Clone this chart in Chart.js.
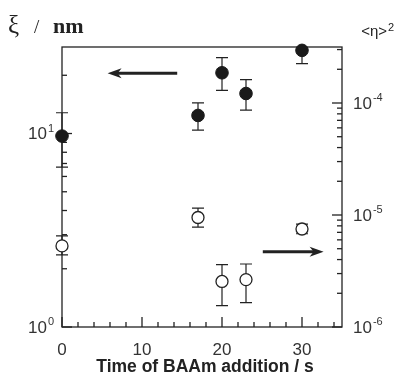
<!DOCTYPE html>
<html>
<head>
<meta charset="utf-8">
<script src="https://cdn.jsdelivr.net/npm/chart.js@4/dist/chart.umd.min.js"></script>
<style>
  html, body { margin: 0; padding: 0; background: #fff; }
  #wrap { width: 398px; height: 376px; }
</style>
</head>
<body>
<div id="wrap"><canvas id="c" width="398" height="376"></canvas></div>
<script>
// time of BAAm addition (s)
const times = [0, 17, 20, 23, 30];
// correlation length xi / nm (left axis), with error bar ends
const xi   = [9.7, 12.4, 20.6, 16.1, 26.9];
const xiLo = [6.7, 10.4, 16.7, 13.2, 23.0];
const xiHi = [12.8, 14.4, 24.7, 19.0, 31.0];
// <eta>^2 (right axis), with error bar ends
const eta2   = [5.3e-6, 9.5e-6, 2.55e-6, 2.65e-6, 7.5e-6];
const eta2Lo = [4.4e-6, 7.8e-6, 1.55e-6, 1.65e-6, 6.8e-6];
const eta2Hi = [6.5e-6, 1.15e-5, 3.6e-6, 3.65e-6, 8.3e-6];

// tick labels
const xTicks = [0, 10, 20, 30];
const leftExps = [0, 1];
const rightExps = [-6, -5, -4];

// arrows pointing at the axis each series belongs to (data units)
const leftArrow = { from: 14.4, to: 5.7, y: 20.5 };
const rightArrow = { from: 25.1, to: 32.7, y: 4.7e-6 };

const INK = '#222';
const SANS = "'Liberation Sans', Arial, sans-serif";
const SERIF = "'Liberation Serif', 'DejaVu Serif', serif";

function drawPow(ctx, exp, x, y, align) {
  ctx.textBaseline = 'middle';
  ctx.font = '17px ' + SANS;
  const bw = ctx.measureText('10').width;
  ctx.font = '11px ' + SANS;
  const ew = ctx.measureText(String(exp)).width;
  const x0 = align === 'right' ? x - bw - ew - 1 : x;
  ctx.textAlign = 'left';
  ctx.font = '17px ' + SANS;
  ctx.fillText('10', x0, y + 1);
  ctx.font = '11px ' + SANS;
  ctx.fillText(String(exp), x0 + bw + 1, y - 5);
}

function logTicks(ctx, scale, xEdge, dir) {
  const lo = Math.floor(Math.log10(scale.min));
  const hi = Math.ceil(Math.log10(scale.max));
  for (let d = lo; d <= hi; d++) {
    for (let k = 1; k <= 9; k++) {
      const v = k * Math.pow(10, d);
      if (v < scale.min * 0.999 || v > scale.max * 1.001) continue;
      const py = scale.getPixelForValue(v);
      const len = k === 1 ? 10 : 5;
      ctx.beginPath();
      ctx.moveTo(xEdge, py);
      ctx.lineTo(xEdge + dir * len, py);
      ctx.stroke();
    }
  }
}

function arrow(ctx, x1, x2, y) {
  const dir = Math.sign(x2 - x1);
  ctx.lineWidth = 3;
  ctx.beginPath();
  ctx.moveTo(x1, y);
  ctx.lineTo(x2 - dir * 8, y);
  ctx.stroke();
  ctx.beginPath();
  ctx.moveTo(x2, y);
  ctx.lineTo(x2 - dir * 14, y - 5);
  ctx.lineTo(x2 - dir * 10, y);
  ctx.lineTo(x2 - dir * 14, y + 5);
  ctx.closePath();
  ctx.fill();
}

const frame = {
  id: 'frame',
  beforeDatasetsDraw(chart) {
    const { ctx, chartArea: a, scales } = chart;
    const sx = scales.x, yl = scales.y, yr = scales.y2;
    ctx.save();
    ctx.strokeStyle = INK;
    ctx.fillStyle = INK;
    ctx.lineWidth = 1.3;
    ctx.strokeRect(a.left, a.top, a.right - a.left, a.bottom - a.top);

    // bottom ticks, pointing inward
    for (let v = sx.min; v <= sx.max; v += 2) {
      const px = sx.getPixelForValue(v);
      const len = v % 10 === 0 ? 10 : 5;
      ctx.beginPath();
      ctx.moveTo(px, a.bottom);
      ctx.lineTo(px, a.bottom - len);
      ctx.stroke();
    }
    logTicks(ctx, yl, a.left, 1);
    logTicks(ctx, yr, a.right, -1);

    // error bars
    ctx.save();
    ctx.beginPath();
    ctx.rect(0, a.top, chart.width, a.bottom - a.top);
    ctx.clip();
    ctx.lineWidth = 1.2;
    const bars = (los, his, scale) => {
      times.forEach((t, i) => {
        const px = sx.getPixelForValue(t);
        const p1 = scale.getPixelForValue(los[i]);
        const p2 = scale.getPixelForValue(his[i]);
        ctx.beginPath();
        ctx.moveTo(px, p1); ctx.lineTo(px, p2);
        ctx.moveTo(px - 6, p1); ctx.lineTo(px + 6, p1);
        ctx.moveTo(px - 6, p2); ctx.lineTo(px + 6, p2);
        ctx.stroke();
      });
    };
    bars(xiLo, xiHi, yl);
    bars(eta2Lo, eta2Hi, yr);
    ctx.restore();

    // arrows
    arrow(ctx, sx.getPixelForValue(leftArrow.from), sx.getPixelForValue(leftArrow.to), yl.getPixelForValue(leftArrow.y));
    arrow(ctx, sx.getPixelForValue(rightArrow.from), sx.getPixelForValue(rightArrow.to), yr.getPixelForValue(rightArrow.y));

    // tick labels
    ctx.fillStyle = '#333';
    ctx.font = '17px ' + SANS;
    ctx.textAlign = 'center';
    ctx.textBaseline = 'alphabetic';
    xTicks.forEach(v => ctx.fillText(String(v), sx.getPixelForValue(v), 355));
    leftExps.forEach(e => drawPow(ctx, e, a.left - 8, yl.getPixelForValue(Math.pow(10, e)), 'right'));
    rightExps.forEach(e => drawPow(ctx, e, a.right + 11, yr.getPixelForValue(Math.pow(10, e)), 'left'));

    // axis titles
    ctx.fillStyle = INK;
    ctx.textBaseline = 'alphabetic';
    ctx.textAlign = 'center';
    ctx.font = 'bold 17.5px ' + SANS;
    ctx.fillText('Time of BAAm addition / s', 205, 372);

    ctx.textAlign = 'left';
    ctx.font = '25px ' + SERIF;
    ctx.fillText('\u03BE', 8, 33);
    ctx.font = '19px ' + SERIF;
    ctx.fillText('/', 34, 33);
    ctx.font = 'bold 22px ' + SERIF;
    ctx.fillText('nm', 53, 33);

    ctx.font = '15px ' + SANS;
    const eta = '<\u03B7>';
    const ew = ctx.measureText(eta).width;
    const ex = 396 - 9 - ew;
    ctx.fillText(eta, ex, 36);
    ctx.font = '11px ' + SANS;
    ctx.fillText('2', ex + ew + 1, 31);
    ctx.restore();
  }
};

new Chart(document.getElementById('c'), {
  type: 'scatter',
  data: {
    datasets: [
      {
        label: 'xi',
        data: times.map((t, i) => ({ x: t, y: xi[i] })),
        yAxisID: 'y',
        pointRadius: 6.3,
        backgroundColor: '#1a1a1a',
        borderColor: '#1a1a1a',
        borderWidth: 1,
        clip: false
      },
      {
        label: 'eta2',
        data: times.map((t, i) => ({ x: t, y: eta2[i] })),
        yAxisID: 'y2',
        pointRadius: 6,
        backgroundColor: '#fff',
        borderColor: INK,
        borderWidth: 1.3,
        clip: false
      }
    ]
  },
  options: {
    responsive: false,
    animation: false,
    events: [],
    layout: { padding: { left: 62, right: 56, top: 47, bottom: 49 } },
    plugins: { legend: { display: false }, tooltip: { enabled: false } },
    scales: {
      x: { type: 'linear', min: 0, max: 35, display: false },
      y: { type: 'logarithmic', min: 1, max: 28, display: false },
      y2: { type: 'logarithmic', position: 'right', min: 1e-6, max: Math.pow(10, -3.5), display: false }
    }
  },
  plugins: [frame]
});
</script>
</body>
</html>
